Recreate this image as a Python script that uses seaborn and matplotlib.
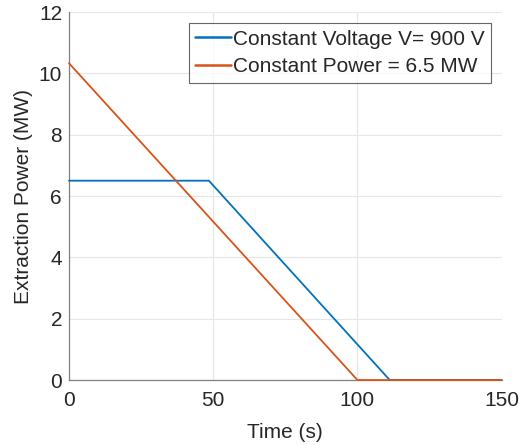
import pandas as pd
import matplotlib
matplotlib.use("Agg")
import matplotlib.pyplot as plt
import seaborn as sns

# Extraction power curves
voltage_label = "Constant Voltage V= 900 V"
power_label = "Constant Power = 6.5 MW"

voltage_time = [0, 48.5, 111.2, 150]
voltage_power = [6.5, 6.5, 0, 0]

power_time = [0, 100, 150]
power_power = [10.33, 0, 0]

x_ticks = [0, 50, 100, 150]
y_ticks = [0, 2, 4, 6, 8, 10, 12]

sns.set_style("white")
plt.rcParams['font.family'] = ['Liberation Sans', 'DejaVu Sans']
fs = 15

df = pd.concat([
    pd.DataFrame({'Time': voltage_time, 'Power': voltage_power, 'Series': voltage_label}),
    pd.DataFrame({'Time': power_time, 'Power': power_power, 'Series': power_label}),
])

fig = plt.figure(figsize=(5.2, 4.45), dpi=100)
ax = fig.add_axes([0.1327, 0.146, 0.832, 0.827])

sns.lineplot(data=df, x='Time', y='Power', hue='Series',
             palette={voltage_label: '#0072BD', power_label: '#D95319'},
             linewidth=1.3, ax=ax, sort=False, estimator=None, clip_on=False,
             zorder=3)

ax.set_xlim(0, 150)
ax.set_ylim(0, 12)
ax.set_xticks(x_ticks)
ax.set_yticks(y_ticks)
ax.grid(True, color='#e6e6e6', linewidth=0.8)
ax.set_axisbelow(True)
for side in ['top', 'right']:
    ax.spines[side].set_visible(False)
for side in ['left', 'bottom']:
    ax.spines[side].set_color('#808080')
    ax.spines[side].set_linewidth(0.9)
ax.tick_params(direction='in', length=4, color='#808080', labelcolor='#262626',
               labelsize=fs)
ax.tick_params(axis='x', pad=8)
ax.tick_params(axis='y', pad=5)

ax.set_xlabel('Time (s)', color='#262626', fontsize=fs, labelpad=9)
ax.set_ylabel('Extraction Power (MW)', color='#262626', fontsize=fs, labelpad=4)

leg = ax.legend(loc='upper right', bbox_to_anchor=(0.976, 0.969), fontsize=fs,
                frameon=True, fancybox=False, edgecolor='#404040',
                handlelength=1.7, handletextpad=0.12, borderpad=0.3,
                labelspacing=0.42, borderaxespad=0)
leg.get_frame().set_linewidth(0.8)
for line in leg.get_lines():
    line.set_linewidth(1.8)

fig.savefig('out.png', dpi=100)
